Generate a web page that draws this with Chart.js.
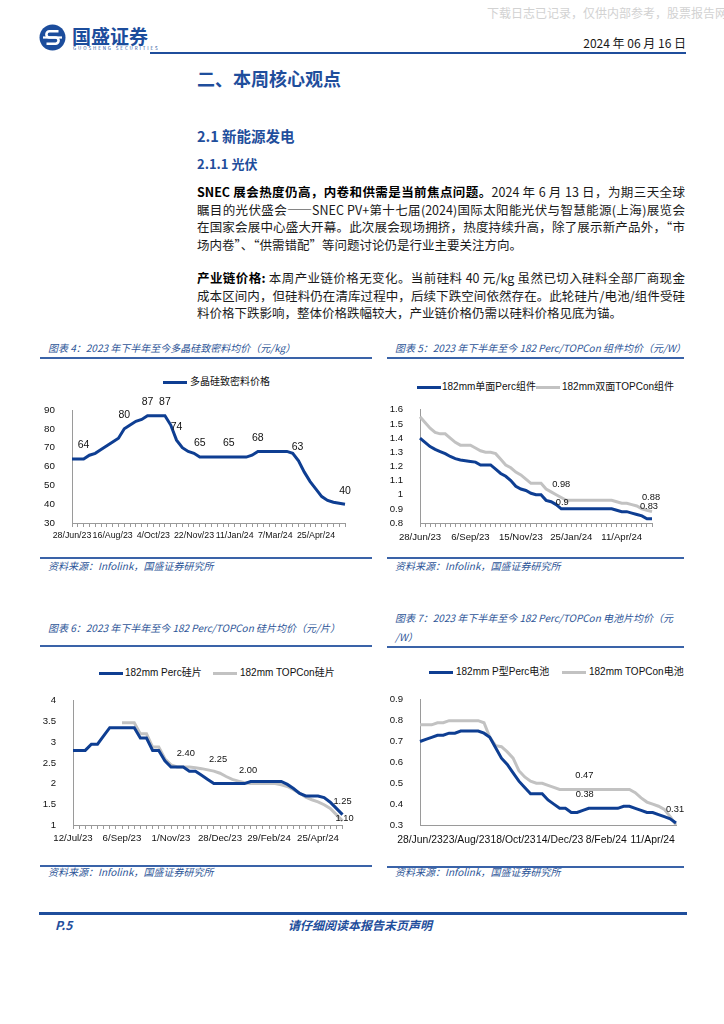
<!DOCTYPE html>
<html lang="zh-CN">
<head>
<meta charset="utf-8">
<title>国盛证券 光伏产业链价格</title>
<script src="https://cdn.jsdelivr.net/npm/chart.js@4.4.1/dist/chart.umd.min.js"></script>
<style>
  html, body { margin: 0; padding: 0; background: #fff; }
  body {
    position: relative; width: 724px; height: 1024px; overflow: hidden;
    font-family: "Noto Sans CJK SC", "Liberation Sans", sans-serif; color: #1a1a1a;
  }
  .t { position: absolute; white-space: nowrap; line-height: 1; }
  .rule { position: absolute; height: 2px; background: #3a63a8; }
  .head { color: #1f4e9c; font-weight: bold; }
  .fig { font-size: 10px; font-style: italic; color: #2d5597; }
  .para { position: absolute; left: 197px; width: 488px; font-size: 12.5px; line-height: 17.7px; }
  .para div { text-align: justify; text-align-last: justify; }
  .para div.last { text-align-last: left; }
  .para b { color: #000; }
  .leg { position: absolute; font-size: 10px; line-height: 1; white-space: nowrap;
         font-family: "Liberation Sans", "Noto Sans CJK SC", sans-serif; color: #111; }
  .legline { position: absolute; height: 3px; width: 24px; }
  canvas { position: absolute; }
</style>
</head>
<body>

<!-- cabecera -->
<div class="t" style="left:487px;top:7px;font-size:12px;color:#d2d2d2;">下载日志已记录，仅供内部参考，股票报告网</div>
<svg class="t" style="left:39px;top:24px" width="27" height="27" viewBox="0 0 27 27">
  <circle cx="13.5" cy="13.5" r="13" fill="#1c4d9c"/>
  <path d="M19.5 7.3 H10.5 a3.1 3.1 0 0 0 0 6.2 h6 a3.1 3.1 0 0 1 0 6.2 H7.5" stroke="#fff" stroke-width="2.6" fill="none"/>
  <rect x="4" y="12.4" width="19" height="2.2" fill="#fff"/>
</svg>
<div class="t" style="left:72px;top:26px;font-size:19px;font-weight:bold;color:#1c4d9c;">国盛证券</div>
<div class="t" style="left:73px;top:46px;font-size:4.5px;letter-spacing:1.9px;color:#1c4d9c;">GUOSHENG SECURITIES</div>
<div class="t" style="right:38px;top:37px;font-size:12px;">2024 年 06 月 16 日</div>
<div class="rule" style="left:150px;top:52px;width:536px;background:#1f4e9c;"></div>

<!-- texto -->
<div class="t head" style="left:197px;top:69px;font-size:18px;">二、本周核心观点</div>
<div class="t head" style="left:197px;top:129px;font-size:14.5px;">2.1 新能源发电</div>
<div class="t head" style="left:197px;top:157px;font-size:13px;">2.1.1 光伏</div>

<div class="para" style="top:183px;">
  <div><b>SNEC 展会热度仍高，内卷和供需是当前焦点问题。</b>2024 年 6 月 13 日，为期三天全球</div>
  <div>瞩目的光伏盛会——SNEC PV+第十七届(2024)国际太阳能光伏与智慧能源(上海)展览会</div>
  <div>在国家会展中心盛大开幕。此次展会现场拥挤，热度持续升高，除了展示新产品外，“市</div>
  <div class="last">场内卷”、“供需错配”等问题讨论仍是行业主要关注方向。</div>
</div>
<div class="para" style="top:269px;">
  <div><b>产业链价格:</b> 本周产业链价格无变化。当前硅料 40 元/kg 虽然已切入硅料全部厂商现金</div>
  <div>成本区间内，但硅料仍在清库过程中，后续下跌空间依然存在。此轮硅片/电池/组件受硅</div>
  <div class="last">料价格下跌影响，整体价格跌幅较大，产业链价格仍需以硅料价格见底为锚。</div>
</div>

<!-- títulos de las figuras -->
<div class="t fig" style="left:48px;top:343px;">图表 4：2023 年下半年至今多晶硅致密料均价（元/kg）</div>
<div class="rule" style="left:40px;top:357px;width:332px;"></div>
<div class="t fig" style="left:395px;top:343px;">图表 5：2023 年下半年至今 182 Perc/TOPCon 组件均价（元/W）</div>
<div class="rule" style="left:387px;top:357px;width:297px;"></div>
<div class="rule" style="left:40px;top:557px;width:332px;"></div>
<div class="t fig" style="left:48px;top:561px;">资料来源：Infolink，国盛证券研究所</div>
<div class="rule" style="left:387px;top:557px;width:297px;"></div>
<div class="t fig" style="left:395px;top:561px;">资料来源：Infolink，国盛证券研究所</div>

<div class="t fig" style="left:48px;top:623px;">图表 6：2023 年下半年至今 182 Perc/TOPCon 硅片均价（元/片）</div>
<div class="rule" style="left:40px;top:645px;width:332px;"></div>
<div class="t fig" style="left:395px;top:613px;">图表 7：2023 年下半年至今 182 Perc/TOPCon 电池片均价（元</div>
<div class="t fig" style="left:395px;top:632px;">/W）</div>
<div class="rule" style="left:387px;top:646px;width:297px;"></div>
<div class="rule" style="left:40px;top:865px;width:332px;"></div>
<div class="t fig" style="left:48px;top:867px;">资料来源：Infolink，国盛证券研究所</div>
<div class="rule" style="left:387px;top:866px;width:297px;"></div>
<div class="t fig" style="left:395px;top:867px;">资料来源：Infolink，国盛证券研究所</div>

<canvas id="polyChart" width="335" height="150" style="left:30px;top:395px;"></canvas>
<canvas id="moduleChart" width="310" height="150" style="left:380px;top:395px;"></canvas>
<canvas id="waferChart" width="335" height="165" style="left:30px;top:685px;"></canvas>
<canvas id="cellChart" width="310" height="165" style="left:380px;top:685px;"></canvas>

<!-- pie de página -->
<div class="rule" style="left:39px;top:912px;width:648px;height:2.5px;background:#1f4e9c;"></div>
<div class="t" style="left:55px;top:919px;font-size:12px;font-weight:bold;font-style:italic;color:#1f4e9c;">P.5</div>
<div class="t" style="left:288px;top:919px;font-size:12px;font-weight:bold;font-style:italic;color:#1f4e9c;">请仔细阅读本报告末页声明</div>

<script>
// Fechas semanales (28/Jun/23 en adelante)
const polyDates = ['28/Jun/23','5/Jul/23','12/Jul/23','19/Jul/23','26/Jul/23','2/Aug/23','9/Aug/23','16/Aug/23',
  '23/Aug/23','30/Aug/23','6/Sep/23','13/Sep/23','20/Sep/23','27/Sep/23','4/Oct/23','11/Oct/23','18/Oct/23',
  '25/Oct/23','1/Nov/23','8/Nov/23','15/Nov/23','22/Nov/23','29/Nov/23','6/Dec/23','13/Dec/23','20/Dec/23',
  '27/Dec/23','4/Jan/24','11/Jan/24','18/Jan/24','25/Jan/24','1/Feb/24','7/Feb/24','22/Feb/24','29/Feb/24',
  '7/Mar/24','14/Mar/24','21/Mar/24','28/Mar/24','3/Apr/24','11/Apr/24','18/Apr/24','25/Apr/24','30/Apr/24',
  '9/May/24','16/May/24','23/May/24','30/May/24'];
const moduleDates = polyDates.slice(0, 47);
const waferDates = ['12/Jul/23','19/Jul/23','26/Jul/23','2/Aug/23','9/Aug/23','16/Aug/23','23/Aug/23','30/Aug/23',
  '6/Sep/23','13/Sep/23','20/Sep/23','27/Sep/23','4/Oct/23','11/Oct/23','18/Oct/23','25/Oct/23','1/Nov/23',
  '8/Nov/23','15/Nov/23','22/Nov/23','29/Nov/23','6/Dec/23','13/Dec/23','20/Dec/23','28/Dec/23','4/Jan/24',
  '11/Jan/24','18/Jan/24','25/Jan/24','1/Feb/24','7/Feb/24','22/Feb/24','29/Feb/24','7/Mar/24','14/Mar/24',
  '21/Mar/24','28/Mar/24','3/Apr/24','11/Apr/24','18/Apr/24','25/Apr/24','30/Apr/24','9/May/24','16/May/24','23/May/24'];
const cellDates = ['28/Jun/23','5/Jul/23','12/Jul/23','19/Jul/23','26/Jul/23','2/Aug/23','9/Aug/23','16/Aug/23',
  '23/Aug/23','30/Aug/23','6/Sep/23','13/Sep/23','20/Sep/23','27/Sep/23','4/Oct/23','11/Oct/23','18/Oct/23',
  '25/Oct/23','1/Nov/23','8/Nov/23','15/Nov/23','22/Nov/23','29/Nov/23','7/Dec/23','14/Dec/23','21/Dec/23',
  '28/Dec/23','4/Jan/24','11/Jan/24','18/Jan/24','25/Jan/24','1/Feb/24','8/Feb/24','22/Feb/24','29/Feb/24',
  '7/Mar/24','14/Mar/24','21/Mar/24','28/Mar/24','3/Apr/24','11/Apr/24','18/Apr/24','25/Apr/24','30/Apr/24','9/May/24'];

// Series
const polyName = '多晶硅致密料价格';
const polyPrice = [64,64,64,66,67,69,71,73,75,80,82,84,85,87,87,87,87,82,74,70,68,67,65,65,65,65,65,65,65,65,65,
  66,68,68,68,68,68,68,67,63,57,52,48,44,42,41,40.5,40];

const modulePercName = '182mm单面Perc组件';
const moduleTopconName = '182mm双面TOPCon组件';
const modulePerc = [1.40,1.37,1.34,1.32,1.305,1.29,1.27,1.255,1.245,1.24,1.235,1.23,1.21,1.21,1.21,1.18,1.15,1.13,
  1.10,1.06,1.04,1.03,1.01,1.00,1.00,0.96,0.95,0.93,0.90,0.90,0.90,0.90,0.90,0.90,0.90,0.90,0.90,0.90,0.90,0.89,
  0.88,0.88,0.87,0.86,0.85,0.83,0.83];
const moduleTopcon = [1.55,1.51,1.47,1.44,1.43,1.43,1.40,1.37,1.35,1.35,1.35,1.33,1.31,1.30,1.30,1.29,1.25,1.21,
  1.19,1.16,1.14,1.11,1.08,1.08,1.08,1.04,1.02,1.00,0.98,0.96,0.96,0.96,0.96,0.96,0.96,0.96,0.96,0.96,0.96,0.95,
  0.94,0.94,0.93,0.92,0.90,0.89,0.88];

const waferPercName = '182mm Perc硅片';
const waferTopconName = '182mm TOPCon硅片';
const waferPerc = [2.80,2.80,2.80,2.95,2.95,3.15,3.35,3.35,3.35,3.35,3.35,3.10,3.10,2.80,2.80,2.55,2.40,2.40,2.40,
  2.30,2.30,2.20,2.10,2.00,2.00,2.00,2.00,2.00,2.00,2.05,2.05,2.05,2.05,2.05,2.05,1.98,1.88,1.76,1.70,1.70,1.70,
  1.66,1.55,1.40,1.25];
const waferTopcon = [null,null,null,null,null,null,null,null,3.47,3.47,3.47,3.20,3.20,2.88,2.88,2.60,2.45,2.40,2.40,
  2.40,2.38,2.36,2.33,2.30,2.25,2.17,2.10,2.06,2.02,2.00,2.00,2.00,2.00,2.00,1.97,1.93,1.85,1.77,1.67,1.61,1.56,
  1.49,1.40,1.25,1.10];

const cellPercName = '182mm P型Perc电池';
const cellTopconName = '182mm TOPCon电池';
const cellPerc = [0.70,0.71,0.72,0.73,0.73,0.74,0.74,0.75,0.75,0.75,0.75,0.74,0.72,0.67,0.62,0.59,0.55,0.51,0.48,
  0.45,0.45,0.45,0.42,0.40,0.38,0.38,0.36,0.36,0.37,0.38,0.38,0.38,0.38,0.38,0.38,0.39,0.39,0.38,0.37,0.36,0.36,
  0.35,0.34,0.33,0.31];
const cellTopcon = [0.78,0.78,0.78,0.79,0.79,0.80,0.80,0.80,0.80,0.80,0.80,0.79,0.72,0.68,0.675,0.65,0.62,0.56,0.53,
  0.51,0.50,0.50,0.49,0.48,0.47,0.47,0.47,0.47,0.47,0.47,0.47,0.47,0.47,0.47,0.47,0.47,0.47,0.455,0.43,0.41,0.40,
  0.39,0.375,0.34,0.30];

const FONT = '"Liberation Sans", Arial, sans-serif';
const BLUE = '#0e3e92';
const GREY = '#c2c2c2';
const AXIS = '#9a9a9a';

// Etiquetas de valor encima de algunos puntos
function pointLabels(items, digits, size) {
  return {
    id: 'pointLabels',
    afterDatasetsDraw(chart) {
      const ctx = chart.ctx;
      ctx.save();
      ctx.font = size + 'px ' + FONT;
      ctx.fillStyle = '#111';
      ctx.textAlign = 'center';
      ctx.textBaseline = 'middle';
      items.forEach(it => {
        const pt = chart.getDatasetMeta(it.ds).data[it.i];
        const v = chart.data.datasets[it.ds].data[it.i];
        if (!pt || v == null) return;
        const txt = digits == null ? String(v) : v.toFixed(digits);
        ctx.fillText(txt, pt.x + (it.dx || 0), pt.y + (it.dy == null ? -13.5 : it.dy));
      });
      ctx.restore();
    }
  };
}

function lineChart(id, o) {
  const datasets = o.series.map(s => ({
    label: s.label, data: s.data, borderColor: s.color, backgroundColor: s.color,
    borderWidth: 3, pointRadius: 0, tension: 0, fill: false
  }));
  return new Chart(document.getElementById(id), {
    type: 'line',
    data: { labels: o.labels, datasets },
    options: {
      responsive: false, animation: false, devicePixelRatio: 1,
      layout: { padding: { top: o.padTop, right: o.padRight, left: 0, bottom: 0 } },
      plugins: { legend: { display: false }, tooltip: { enabled: false } },
      scales: {
        x: {
          ticks: {
            autoSkip: false, maxRotation: 0, minRotation: 0, color: '#111', padding: o.xPad,
            font: { family: FONT, size: o.xFont },
            callback(v, i) { return i % o.every === 0 ? this.getLabelForValue(v) : ''; }
          },
          grid: { drawOnChartArea: false, drawTicks: o.xTicks, tickLength: 4, color: AXIS },
          border: { color: AXIS },
          afterFit(s) { s.height = o.xHeight; }
        },
        y: {
          min: o.min, max: o.max,
          ticks: {
            autoSkip: false, stepSize: o.step, color: '#111', padding: 9,
            font: { family: FONT, size: o.yFont },
            callback: v => String(Math.round(v * 100) / 100)
          },
          grid: { display: false },
          border: { color: AXIS },
          afterFit(s) { s.width = o.yWidth; }
        }
      }
    },
    plugins: [pointLabels(o.marks, o.digits, o.labelFont)]
  });
}

// Leyenda en HTML
function legend(y, items) {
  items.forEach(it => {
    const line = document.createElement('div');
    line.className = 'legline';
    line.style.cssText = `left:${it.lineX}px;top:${y - 1.5}px;background:${it.color};`;
    document.body.appendChild(line);
    const txt = document.createElement('div');
    txt.className = 'leg';
    txt.style.cssText = `left:${it.textX}px;top:${y - 5}px;`;
    txt.textContent = it.name;
    document.body.appendChild(txt);
  });
}

lineChart('polyChart', {
  labels: polyDates, every: 7,
  series: [{ label: polyName, data: polyPrice, color: BLUE }],
  min: 30, max: 90, step: 10,
  yWidth: 42, padTop: 15, padRight: 20, xHeight: 22, xPad: 3, xTicks: true,
  xFont: 8.8, yFont: 9.8, labelFont: 10.5, digits: 0,
  marks: [{ds:0,i:2},{ds:0,i:9},{ds:0,i:13},{ds:0,i:16},{ds:0,i:18},{ds:0,i:22},{ds:0,i:27},
          {ds:0,i:32},{ds:0,i:39,dx:-1},{ds:0,i:47}]
});
legend(382, [{ name: polyName, color: BLUE, lineX: 163, textX: 190 }]);

lineChart('moduleChart', {
  labels: moduleDates, every: 10,
  series: [{ label: modulePercName, data: modulePerc, color: BLUE },
           { label: moduleTopconName, data: moduleTopcon, color: GREY }],
  min: 0.8, max: 1.6, step: 0.1,
  yWidth: 40, padTop: 14, padRight: 38, xHeight: 22, xPad: 5, xTicks: true,
  xFont: 9.6, yFont: 9.6, labelFont: 9.3, digits: null,
  marks: [{ds:1,i:28,dy:-13},{ds:0,i:28,dx:1,dy:-6},{ds:1,i:46,dx:-1,dy:-14},{ds:0,i:45,dx:2,dy:-12}]
});
legend(387, [{ name: modulePercName, color: BLUE, lineX: 417, textX: 442 },
             { name: moduleTopconName, color: GREY, lineX: 536, textX: 562 }]);

lineChart('waferChart', {
  labels: waferDates, every: 8,
  series: [{ label: waferPercName, data: waferPerc, color: BLUE },
           { label: waferTopconName, data: waferTopcon, color: GREY }],
  min: 1, max: 4, step: 0.5,
  yWidth: 43, padTop: 15.7, padRight: 22.5, xHeight: 25, xPad: 4, xTicks: true,
  xFont: 9.7, yFont: 9.6, labelFont: 9.3, digits: 2,
  marks: [{ds:0,i:18,dx:2.5,dy:-14},{ds:1,i:24,dx:-2,dy:-14},{ds:0,i:28,dx:3.5,dy:-13.5},
          {ds:0,i:44,dy:-13.5},{ds:1,i:44,dx:2,dy:-2.5}]
});
legend(673, [{ name: waferPercName, color: BLUE, lineX: 99, textX: 125 },
             { name: waferTopconName, color: GREY, lineX: 213, textX: 240 }]);

lineChart('cellChart', {
  labels: cellDates, every: 8,
  series: [{ label: cellPercName, data: cellPerc, color: BLUE },
           { label: cellTopconName, data: cellTopcon, color: GREY }],
  min: 0.3, max: 0.9, step: 0.1,
  yWidth: 40, padTop: 14.3, padRight: 14, xHeight: 25, xPad: 9, xTicks: false,
  xFont: 10.4, yFont: 9.6, labelFont: 9.3, digits: 2,
  marks: [{ds:1,i:28,dx:1.5,dy:-14},{ds:0,i:29,dx:-4,dy:-13.5},{ds:0,i:44,dx:-1,dy:-13}]
});
legend(672, [{ name: cellPercName, color: BLUE, lineX: 429, textX: 456 },
             { name: cellTopconName, color: GREY, lineX: 562, textX: 589 }]);
</script>
</body>
</html>
